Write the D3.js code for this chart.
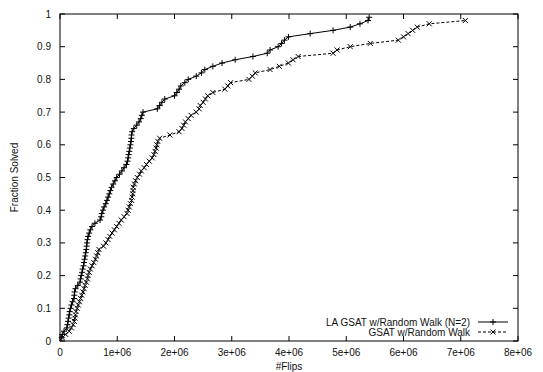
<!DOCTYPE html>
<html>
<head>
<meta charset="utf-8">
<script src="https://cdn.jsdelivr.net/npm/d3@7"></script>
<style>
  body { margin: 0; background: #fff; }
  text { font-family: "Liberation Sans", Arial, sans-serif; font-size: 10px; fill: #111; }
</style>
</head>
<body>
<div id="chart"></div>
<script>
// fraction solved levels (one per solved instance)
const fracLA = d3.range(1, 100).map(i => i / 100);
const fracGS = d3.range(1, 99).map(i => i / 100);

// #flips (in millions) needed to reach each fraction level
const flipsLA = [
  0.03, 0.04, 0.07, 0.12, 0.13, 0.14, 0.15, 0.16, 0.17, 0.185,
  0.20, 0.22, 0.245, 0.25, 0.255, 0.27, 0.31, 0.35, 0.36, 0.37,
  0.385, 0.395, 0.41, 0.42, 0.43, 0.44, 0.45, 0.46, 0.465, 0.47,
  0.48, 0.49, 0.51, 0.53, 0.56, 0.61, 0.70, 0.72, 0.73, 0.75,
  0.77, 0.80, 0.82, 0.84, 0.86, 0.88, 0.90, 0.93, 0.96, 0.99,
  1.04, 1.08, 1.12, 1.16, 1.18, 1.19, 1.20, 1.21, 1.22, 1.23,
  1.24, 1.245, 1.25, 1.26, 1.29, 1.34, 1.38, 1.41, 1.43, 1.45,
  1.70, 1.74, 1.78, 1.83, 2.00, 2.04, 2.08, 2.11, 2.18, 2.24,
  2.38, 2.47, 2.53, 2.67, 2.83, 3.06, 3.37, 3.62, 3.67, 3.81,
  3.87, 3.92, 3.99, 4.37, 4.77, 5.07, 5.24, 5.38, 5.40
];
const flipsGS = [
  0.04, 0.10, 0.16, 0.20, 0.23, 0.25, 0.26, 0.27, 0.28, 0.30,
  0.32, 0.34, 0.36, 0.38, 0.40, 0.42, 0.44, 0.46, 0.48, 0.49,
  0.51, 0.53, 0.56, 0.59, 0.62, 0.64, 0.66, 0.68, 0.76, 0.80,
  0.84, 0.87, 0.91, 0.95, 0.99, 1.03, 1.07, 1.12, 1.17, 1.19,
  1.21, 1.23, 1.25, 1.26, 1.27, 1.275, 1.28, 1.30, 1.32, 1.35,
  1.39, 1.42, 1.47, 1.51, 1.56, 1.61, 1.64, 1.66, 1.68, 1.69,
  1.71, 1.74, 1.92, 2.08, 2.13, 2.16, 2.19, 2.24, 2.29, 2.38,
  2.43, 2.45, 2.50, 2.54, 2.58, 2.67, 2.88, 2.93, 2.98, 3.30,
  3.36, 3.41, 3.67, 3.83, 3.99, 4.07, 4.16, 4.77, 4.84, 5.07,
  5.42, 5.91, 6.00, 6.08, 6.16, 6.24, 6.45, 7.08
];

const seriesNames = ['LA GSAT w/Random Walk (N=2)', 'GSAT w/Random Walk'];
const xTicks = [0, 1e6, 2e6, 3e6, 4e6, 5e6, 6e6, 7e6, 8e6];
const xTickLabels = ['0', '1e+06', '2e+06', '3e+06', '4e+06', '5e+06', '6e+06', '7e+06', '8e+06'];
const yTicks = [0, 0.1, 0.2, 0.3, 0.4, 0.5, 0.6, 0.7, 0.8, 0.9, 1];
const yTickLabels = ['0', '0.1', '0.2', '0.3', '0.4', '0.5', '0.6', '0.7', '0.8', '0.9', '1'];

const W = 543, H = 372;
const m = { left: 60, right: 25, top: 14, bottom: 31 };
const pw = W - m.left - m.right;
const ph = H - m.top - m.bottom;

const svg = d3.select('#chart').append('svg').attr('width', W).attr('height', H);
const g = svg.append('g').attr('transform', `translate(${m.left},${m.top})`);

const x = d3.scaleLinear().domain([0, 8e6]).range([0, pw]);
const y = d3.scaleLinear().domain([0, 1]).range([ph, 0]);

// ticks (inside, mirrored)
const tl = 5;
xTicks.forEach((t, i) => {
  g.append('line').attr('x1', x(t)).attr('x2', x(t)).attr('y1', ph).attr('y2', ph - tl).attr('stroke', '#000');
  g.append('line').attr('x1', x(t)).attr('x2', x(t)).attr('y1', 0).attr('y2', tl).attr('stroke', '#000');
  g.append('text').attr('x', x(t)).attr('y', ph + 15).attr('text-anchor', 'middle').text(xTickLabels[i]);
});
yTicks.forEach((t, i) => {
  g.append('line').attr('x1', 0).attr('x2', tl).attr('y1', y(t)).attr('y2', y(t)).attr('stroke', '#000');
  g.append('line').attr('x1', pw).attr('x2', pw - tl).attr('y1', y(t)).attr('y2', y(t)).attr('stroke', '#000');
  g.append('text').attr('x', -9).attr('y', y(t) + 3.5).attr('text-anchor', 'end').text(yTickLabels[i]);
});

g.append('rect').attr('width', pw).attr('height', ph).attr('fill', 'none').attr('stroke', '#000');

// axis titles
g.append('text').attr('x', pw / 2).attr('y', ph + 29).attr('text-anchor', 'middle').text('#Flips');
g.append('text').attr('transform', `translate(${-42},${ph / 2}) rotate(-90)`)
  .attr('text-anchor', 'middle').text('Fraction Solved');

const line = d3.line().x(d => x(d[0])).y(d => y(d[1]));
const ptsLA = flipsLA.map((v, i) => [v * 1e6, fracLA[i]]);
const ptsGS = flipsGS.map((v, i) => [v * 1e6, fracGS[i]]);

const plus = (sel, s) => sel.append('path')
  .attr('d', `M${-s},0H${s}M0,${-s}V${s}`).attr('stroke', '#000').attr('stroke-width', 1);
const cross = (sel, s) => sel.append('path')
  .attr('d', `M${-s},${-s}L${s},${s}M${-s},${s}L${s},${-s}`).attr('stroke', '#000').attr('stroke-width', 1);

g.append('path').datum(ptsLA).attr('d', line).attr('fill', 'none').attr('stroke', '#000').attr('stroke-width', 1);
g.append('path').datum(ptsGS).attr('d', line).attr('fill', 'none').attr('stroke', '#000')
  .attr('stroke-width', 1).attr('stroke-dasharray', '3,2');

ptsLA.forEach(p => plus(g.append('g').attr('transform', `translate(${x(p[0])},${y(p[1])})`), 3));
ptsGS.forEach(p => cross(g.append('g').attr('transform', `translate(${x(p[0])},${y(p[1])})`), 2.5));

// legend
const lx = 410, ly = 308;
seriesNames.forEach((name, i) => {
  const yy = ly + i * 10;
  g.append('text').attr('x', lx).attr('y', yy + 3.5).attr('text-anchor', 'end').text(name);
  const l = g.append('line').attr('x1', lx + 8).attr('x2', lx + 38).attr('y1', yy).attr('y2', yy).attr('stroke', '#000');
  const mk = g.append('g').attr('transform', `translate(${lx + 23},${yy})`);
  if (i === 0) plus(mk, 3);
  else { l.attr('stroke-dasharray', '3,2'); cross(mk, 2.5); }
});
</script>
</body>
</html>
